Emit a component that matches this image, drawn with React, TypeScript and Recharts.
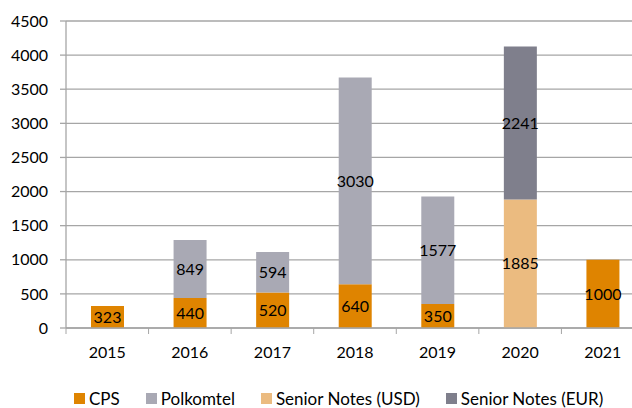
import { BarChart, Bar, XAxis, YAxis, CartesianGrid, Legend, LabelList } from "recharts";

const years = ["2015", "2016", "2017", "2018", "2019", "2020", "2021"];
const cps = [323, 440, 520, 640, 350, null, 1000];
const polkomtel = [null, 849, 594, 3030, 1577, null, null];
const seniorUsd = [null, null, null, null, null, 1885, null];
const seniorEur = [null, null, null, null, null, 2241, null];
const yTicks = [0, 500, 1000, 1500, 2000, 2500, 3000, 3500, 4000, 4500];

const series = [
  { key: "cps", name: "CPS", color: "#DF8400" },
  { key: "polkomtel", name: "Polkomtel", color: "#A9A9B4" },
  { key: "usd", name: "Senior Notes (USD)", color: "#EBBB80" },
  { key: "eur", name: "Senior Notes (EUR)", color: "#7F7F8C" },
];

const data = years.map((year, i) => ({
  year,
  cps: cps[i],
  polkomtel: polkomtel[i],
  usd: seniorUsd[i],
  eur: seniorEur[i],
}));

const FONT = "Lato, 'Open Sans', sans-serif";
const CHART_W = 644;
const PLOT_LEFT = 66;
const BAND = (CHART_W - PLOT_LEFT) / years.length;
const AXIS_COLOR = "#A6A6A6";

const YearTick = (props: any) => {
  const { x, y, payload, index } = props;
  const left = x - BAND / 2;
  return (
    <g>
      <line x1={left} y1={y - 8} x2={left} y2={y - 2} stroke={AXIS_COLOR} />
      {index === years.length - 1 ? (
        <line x1={left + BAND} y1={y - 8} x2={left + BAND} y2={y - 2} stroke={AXIS_COLOR} />
      ) : null}
      <text x={x} y={y + 22} textAnchor="middle" fontSize={16} fill="#000" fontFamily={FONT}>
        {payload.value}
      </text>
    </g>
  );
};

const renderLegend = () => (
  <div style={{ display: "flex", fontFamily: FONT, fontSize: 17, color: "#000", paddingLeft: 74, lineHeight: "17px" }}>
    {series.map((s) => (
      <div key={s.key} style={{ display: "flex", alignItems: "center", marginRight: 26 }}>
        <span style={{ width: 11, height: 11, background: s.color, marginRight: 4, display: "inline-block" }} />
        <span>{s.name}</span>
      </div>
    ))}
  </div>
);

export default function App() {
  return (
    <div style={{ position: "absolute", left: 0, top: 0, width: 632, height: 408, overflow: "hidden", background: "#fff" }}>
      <BarChart
        width={CHART_W}
        height={408}
        data={data}
        margin={{ top: 21, right: 0, left: 0, bottom: 0 }}
      >
        <CartesianGrid vertical={false} stroke={AXIS_COLOR} strokeWidth={1.3} />
        <XAxis
          dataKey="year"
          tick={<YearTick />}
          tickLine={false}
          axisLine={{ stroke: AXIS_COLOR, strokeWidth: 1.3 }}
          height={63}
          interval={0}
        />
        <YAxis
          width={PLOT_LEFT}
          domain={[0, 4500]}
          ticks={yTicks}
          interval={0}
          tickSize={6}
          tickMargin={12}
          axisLine={{ stroke: AXIS_COLOR, strokeWidth: 1.3 }}
          tickLine={{ stroke: AXIS_COLOR, strokeWidth: 1.3 }}
          tick={{ fontSize: 16, fill: "#000", fontFamily: FONT }}
        />
        <Legend
          content={renderLegend}
          wrapperStyle={{ position: "absolute", top: 390, left: 0, width: CHART_W, height: 17 }}
        />
        {series.map((s) => (
          <Bar
            key={s.key}
            dataKey={s.key}
            name={s.name}
            stackId="a"
            fill={s.color}
            barSize={33}
            isAnimationActive={false}
          >
            <LabelList dataKey={s.key} position="center" fill="#000" fontSize={16} fontFamily={FONT} />
          </Bar>
        ))}
      </BarChart>
    </div>
  );
}
